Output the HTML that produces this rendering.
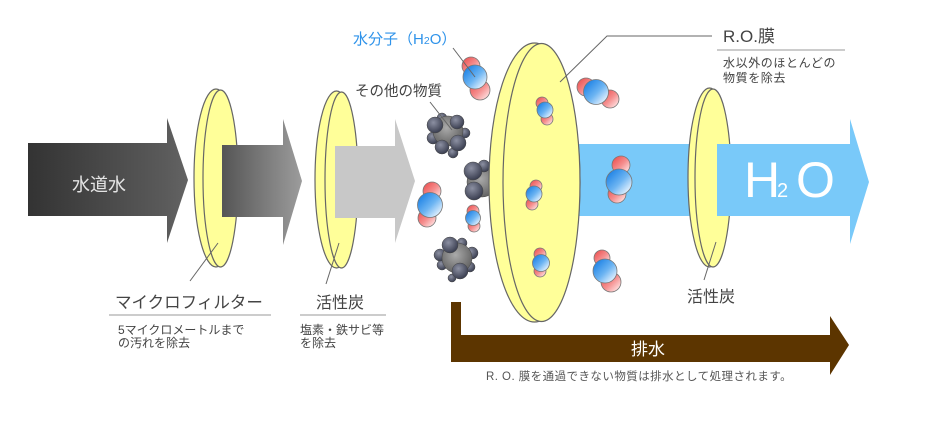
<!DOCTYPE html>
<html><head><meta charset="utf-8">
<style>
html,body{margin:0;padding:0;background:#fff;}
svg{display:block;}
text{font-family:"Liberation Sans","Noto Sans CJK JP",sans-serif;}
</style></head>
<body>
<svg width="926" height="446" viewBox="0 0 926 446" xmlns="http://www.w3.org/2000/svg">
<defs>
<linearGradient id="a1" x1="0" y1="0" x2="1" y2="0">
<stop offset="0" stop-color="#333"/><stop offset="0.85" stop-color="#5a5a5a"/><stop offset="1" stop-color="#636363"/>
</linearGradient>
<linearGradient id="a2" x1="0" y1="0" x2="1" y2="0">
<stop offset="0" stop-color="#555"/><stop offset="1" stop-color="#9c9c9c"/>
</linearGradient>
<linearGradient id="gb" x1="0.15" y1="0.15" x2="0.9" y2="0.9">
<stop offset="0" stop-color="#2486e6"/><stop offset="0.5" stop-color="#6cb4f2"/><stop offset="1" stop-color="#f0f8ff"/>
</linearGradient>
<linearGradient id="gr" x1="0.15" y1="0.15" x2="0.9" y2="0.9">
<stop offset="0" stop-color="#ee5a5a"/><stop offset="0.5" stop-color="#f59090"/><stop offset="1" stop-color="#ffe4e4"/>
</linearGradient>
<radialGradient id="gm" cx="0.45" cy="0.4" r="0.65">
<stop offset="0" stop-color="#aaa"/><stop offset="1" stop-color="#5e5e5e"/>
</radialGradient>
<radialGradient id="gk" cx="0.4" cy="0.35" r="0.7">
<stop offset="0" stop-color="#8c90a2"/><stop offset="1" stop-color="#34384a"/>
</radialGradient>
</defs>

<!-- arrow 1 -->
<polygon points="28,143 167,143 167,118 188,180 167,243 167,216 28,216" fill="url(#a1)"/>
<!-- filter 1 -->
<g fill="#ffff99" stroke="#666" stroke-width="1.2">
<ellipse cx="216" cy="178" rx="22" ry="89"/>
<ellipse cx="220.5" cy="178.5" rx="17.5" ry="88.5"/>
</g>
<!-- arrow 2 -->
<polygon points="222,145 283,145 283,119 302,181 283,245 283,217 222,217" fill="url(#a2)"/>
<!-- filter 2 -->
<g fill="#ffff99" stroke="#666" stroke-width="1.2">
<ellipse cx="336.5" cy="179.5" rx="21.5" ry="88.5"/>
<ellipse cx="341.5" cy="180" rx="16.5" ry="88"/>
</g>
<!-- arrow 3 -->
<polygon points="335,146 395,146 395,119 415,181 395,243 395,218 335,218" fill="#c8c8c8"/>

<!-- particle A -->
<g stroke="#444" stroke-width="0.5">
<circle cx="442" cy="118" r="5" fill="url(#gk)"/>
<circle cx="465" cy="133" r="5" fill="url(#gk)"/>
<circle cx="453" cy="153" r="5" fill="url(#gk)"/>
<circle cx="433" cy="138" r="6" fill="url(#gk)"/>
<circle cx="448" cy="131" r="15" fill="url(#gm)"/>
<circle cx="435" cy="125" r="8" fill="url(#gk)"/>
<circle cx="457" cy="122" r="7" fill="url(#gk)"/>
<circle cx="442" cy="147" r="7" fill="url(#gk)"/>
<circle cx="458" cy="143" r="8" fill="url(#gk)"/>
</g>
<!-- particle C -->
<g stroke="#444" stroke-width="0.5">
<circle cx="462" cy="243" r="5" fill="url(#gk)"/>
<circle cx="472" cy="253" r="6" fill="url(#gk)"/>
<circle cx="470" cy="267" r="5" fill="url(#gk)"/>
<circle cx="452" cy="278" r="4" fill="url(#gk)"/>
<circle cx="442" cy="265" r="5" fill="url(#gk)"/>
<circle cx="440" cy="255" r="6" fill="url(#gk)"/>
<circle cx="457" cy="258" r="15" fill="url(#gm)"/>
<circle cx="450" cy="245" r="8" fill="url(#gk)"/>
<circle cx="460" cy="271" r="8" fill="url(#gk)"/>
</g>
<!-- particle B -->
<g stroke="#444" stroke-width="0.5">
<circle cx="482" cy="182" r="15" fill="url(#gm)"/>
<circle cx="484" cy="166" r="6" fill="url(#gk)"/>
<circle cx="473" cy="171" r="9" fill="url(#gk)"/>
<circle cx="474" cy="191" r="9" fill="url(#gk)"/>
</g>

<!-- molecules left -->
<g stroke="#777" stroke-width="0.8">
<circle cx="432" cy="191" r="9" fill="url(#gr)"/>
<circle cx="427" cy="218" r="9" fill="url(#gr)"/>
<circle cx="430" cy="205" r="12.5" fill="url(#gb)"/>

<circle cx="473" cy="211" r="6" fill="url(#gr)"/>
<circle cx="474" cy="226" r="6" fill="url(#gr)"/>
<circle cx="473" cy="218" r="7.5" fill="url(#gb)"/>

<circle cx="471" cy="66" r="9" fill="url(#gr)"/>
<circle cx="480" cy="90" r="10" fill="url(#gr)"/>
<circle cx="475" cy="77" r="12" fill="url(#gb)"/>
</g>

<!-- blue arrow left part -->
<rect x="560" y="144" width="150" height="72" fill="#79c9f9"/>

<!-- RO membrane -->
<g fill="#ffff99" stroke="#666" stroke-width="1.2">
<ellipse cx="534.5" cy="182.5" rx="45.5" ry="139.5"/>
<ellipse cx="541.5" cy="182.5" rx="38.5" ry="139"/>
</g>

<!-- molecules in membrane -->
<g stroke="#777" stroke-width="0.8">
<circle cx="542" cy="103" r="6" fill="url(#gr)"/>
<circle cx="547" cy="119" r="6" fill="url(#gr)"/>
<circle cx="545" cy="110" r="8" fill="url(#gb)"/>

<circle cx="536" cy="186" r="6" fill="url(#gr)"/>
<circle cx="532" cy="204" r="6" fill="url(#gr)"/>
<circle cx="534" cy="194" r="8" fill="url(#gb)"/>

<circle cx="540" cy="254" r="6" fill="url(#gr)"/>
<circle cx="540" cy="271" r="6" fill="url(#gr)"/>
<circle cx="541" cy="263" r="8.5" fill="url(#gb)"/>
</g>

<!-- filter 3 -->
<g fill="#ffff99" stroke="#666" stroke-width="1.2">
<ellipse cx="709.5" cy="177.5" rx="21.5" ry="89.5"/>
<ellipse cx="713" cy="178" rx="18" ry="89"/>
</g>
<!-- blue arrow right part -->
<polygon points="717,144 850,144 850,119 869,182 850,244 850,216 717,216" fill="#79c9f9"/>

<!-- molecules right -->
<g stroke="#777" stroke-width="0.8">
<circle cx="586" cy="87" r="9" fill="url(#gr)"/>
<circle cx="610" cy="99" r="9" fill="url(#gr)"/>
<circle cx="596" cy="92" r="12.5" fill="url(#gb)"/>

<circle cx="621" cy="165" r="9" fill="url(#gr)"/>
<circle cx="617" cy="194" r="9" fill="url(#gr)"/>
<circle cx="619" cy="182" r="13" fill="url(#gb)"/>

<circle cx="602" cy="258" r="8" fill="url(#gr)"/>
<circle cx="611" cy="282" r="10" fill="url(#gr)"/>
<circle cx="605" cy="271" r="12" fill="url(#gb)"/>
</g>

<!-- H2O text -->
<text x="744" y="197" font-size="50" fill="#fff">H</text>
<text x="777" y="197" font-size="20" fill="#fff">2</text>
<text x="796" y="197" font-size="50" fill="#fff">O</text>

<!-- brown drain arrow -->
<polygon points="451,302 461,302 461,335 830,335 830,316 849,345 830,375 830,362 451,362" fill="#5c3500"/>
<text x="648" y="355" font-size="17" fill="#fff" text-anchor="middle">排水</text>

<!-- leader lines -->
<g stroke="#666" stroke-width="1" fill="none">
<line x1="218" y1="243" x2="190" y2="281"/>
<line x1="339" y1="243" x2="326" y2="284"/>
<line x1="430" y1="102" x2="452" y2="130"/>
<line x1="453" y1="48" x2="475" y2="77"/>
<polyline points="560,82 607,36 712,36"/>
<line x1="716" y1="242" x2="704" y2="280"/>
</g>
<g stroke="#999" stroke-width="1">
<line x1="109" y1="315" x2="271" y2="315"/>
<line x1="300" y1="315" x2="386" y2="315"/>
<line x1="717" y1="50" x2="845" y2="50"/>
</g>

<!-- labels -->
<text x="72" y="191" font-size="18" fill="#e4e4e4">水道水</text>
<text x="115" y="308" font-size="16.5" fill="#444">マイクロフィルター</text>
<text x="316" y="308" font-size="16" fill="#444">活性炭</text>
<text x="118" y="334" font-size="12" fill="#444">5マイクロメートルまで</text>
<text x="118" y="347" font-size="12" fill="#444">の汚れを除去</text>
<text x="300" y="334" font-size="12" fill="#444">塩素・鉄サビ等</text>
<text x="300" y="347" font-size="12" fill="#444">を除去</text>
<text x="355" y="96" font-size="14.5" fill="#444">その他の物質</text>
<text x="353" y="44" font-size="15" fill="#2f93ea">水分子（H<tspan font-size="10.5">2</tspan>O）</text>
<text x="723" y="42" font-size="17" fill="#444">R.O.膜</text>
<text x="723" y="67" font-size="12" fill="#444" letter-spacing="0.6">水以外のほとんどの</text>
<text x="723" y="82" font-size="12" fill="#444" letter-spacing="0.6">物質を除去</text>
<text x="687" y="302" font-size="16" fill="#444">活性炭</text>
<text x="486" y="380" font-size="11.5" fill="#555" letter-spacing="0.45">R. O. 膜を通過できない物質は排水として処理されます。</text>
</svg>
</body></html>
